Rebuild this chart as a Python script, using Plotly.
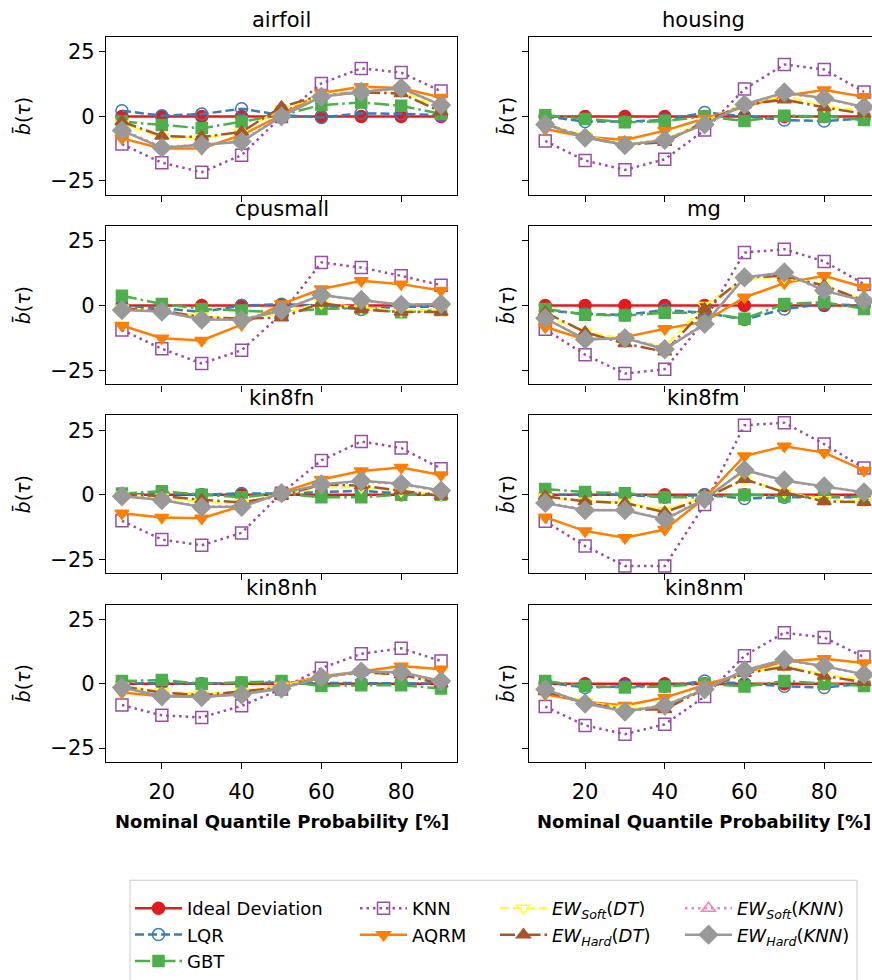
import plotly.graph_objects as go

datasets = ["airfoil", "housing", "cpusmall", "mg", "kin8fn", "kin8fm", "kin8nh", "kin8nm"]
quantiles = [10, 20, 30, 40, 50, 60, 70, 80, 90]

ideal = [
    [0, 0, 0, 0, 0, 0, 0, 0, 0],
    [0, 0, 0, 0, 0, 0, 0, 0, 0],
    [0, 0, 0, 0, 0, 0, 0, 0, 0],
    [0, 0, 0, 0, 0, 0, 0, 0, 0],
    [0, 0, 0, 0, 0, 0, 0, 0, 0],
    [0, 0, 0, 0, 0, 0, 0, 0, 0],
    [0, 0, 0, 0, 0, 0, 0, 0, 0],
    [0, 0, 0, 0, 0, 0, 0, 0, 0],
]
lqr = [
    [2.2, 0.3, 0.9, 3.0, 0.5, -0.4, 1.2, 1.0, 0.5],
    [0.0, -2.0, -2.0, -1.4, 1.5, 0.0, -1.4, -1.8, -0.8],
    [-0.5, -1.0, -2.5, 0.0, 0.5, 0.0, -1.5, -0.5, -0.5],
    [-1.9, -3.2, -3.6, -1.7, -2.8, -5.4, -1.3, 0.6, 0.0],
    [0.0, 0.5, 0.0, 0.5, 0.5, 1.0, 1.5, 0.5, 0.5],
    [0.0, 0.0, 0.0, -1.0, 0.0, -1.5, -1.0, -1.0, -1.0],
    [0.0, 0.2, 0.0, 0.3, 0.5, 0.3, 0.2, 0.2, 0.0],
    [0.5, -1.5, -1.0, -1.0, 1.0, 0.0, -1.0, -1.5, 0.0],
]
gbt = [
    [-2.0, -3.3, -4.6, -2.0, 0.5, 4.4, 5.4, 4.1, 1.0],
    [0.5, -1.0, -2.3, -1.8, 0.0, -1.8, 0.3, 0.0, -1.4],
    [3.8, 0.6, -1.3, -1.9, -2.6, -1.3, -1.0, -2.6, -1.7],
    [-1.3, -3.5, -3.8, -2.8, -2.8, -5.1, 0.6, 1.3, -1.3],
    [0.5, 1.3, 0.0, -1.0, 0.5, -1.0, -1.0, 0.0, 0.0],
    [2.2, 1.0, 0.6, -1.0, -1.0, 0.0, -0.6, -0.6, -0.9],
    [1.0, 1.4, 0.0, 0.4, 1.0, -0.9, -0.6, -0.6, -1.9],
    [1.0, -0.9, -1.5, -1.1, 0.0, -1.1, 1.0, 0.0, -0.9],
]
knn = [
    [-10.7, -17.9, -21.6, -15.0, 0.0, 12.8, 18.6, 17.0, 9.8],
    [-9.5, -17.1, -20.7, -16.6, -5.3, 10.6, 20.1, 18.2, 9.5],
    [-9.4, -16.7, -22.4, -17.3, -3.2, 16.7, 14.7, 11.5, 7.9],
    [-9.2, -19.0, -26.3, -24.6, -5.8, 20.5, 21.8, 17.1, 8.3],
    [-10.1, -17.4, -19.6, -14.8, 0.6, 13.3, 20.6, 18.1, 10.1],
    [-10.3, -19.9, -27.6, -27.6, -3.8, 26.9, 27.9, 19.6, 10.3],
    [-8.3, -12.3, -13.1, -8.6, -2.1, 6.0, 11.6, 13.7, 8.8],
    [-8.9, -16.2, -19.6, -15.8, -5.0, 10.8, 19.8, 17.9, 10.3],
]
aqrm = [
    [-8.5, -12.4, -12.4, -7.2, 0.5, 9.1, 11.5, 11.0, 7.3],
    [-4.9, -7.9, -9.1, -5.5, -0.8, 3.7, 8.0, 10.2, 7.6],
    [-7.7, -12.6, -13.5, -7.4, 0.6, 6.4, 9.6, 8.3, 5.8],
    [-8.3, -13.1, -12.2, -9.0, -6.2, 3.2, 8.7, 11.5, 7.1],
    [-7.2, -8.8, -9.1, -4.4, 0.9, 5.9, 9.2, 10.5, 7.6],
    [-8.7, -14.1, -16.7, -13.5, -1.3, 15.0, 18.8, 16.3, 9.4],
    [-3.4, -4.9, -4.6, -4.0, -0.6, 2.9, 4.7, 6.8, 5.6],
    [-4.1, -7.0, -8.5, -5.4, -0.5, 4.2, 8.7, 9.7, 8.0],
]
ew_soft_dt = [
    [-3.0, -8.0, -8.5, -6.0, 3.0, 8.0, 10.0, 10.0, 3.0],
    [-3.0, -7.5, -11.0, -9.0, -2.0, 5.0, 8.0, 4.0, 2.0],
    [-1.0, -2.0, -4.0, -5.0, -3.0, 1.0, -1.0, -2.0, -1.5],
    [-4.0, -10.0, -13.0, -16.0, 0.0, 10.0, 11.0, 8.0, 2.0],
    [0.0, -1.0, -3.0, -3.0, 0.0, 3.0, 3.0, 1.5, 0.0],
    [-1.0, -2.5, -3.0, -6.0, -1.0, 6.0, 1.0, -2.0, -2.5],
    [-1.0, -3.0, -4.0, -3.0, -1.0, 2.5, 4.5, 3.5, 1.0],
    [-3.0, -7.0, -9.5, -9.0, -2.0, 4.0, 7.0, 3.5, 1.5],
]
ew_hard_dt = [
    [-2.0, -7.6, -8.0, -6.0, 3.7, 8.2, 9.3, 8.9, 1.8],
    [-3.0, -8.0, -11.0, -10.0, -2.0, 4.5, 6.5, 3.5, 1.0],
    [-1.0, -2.0, -4.5, -5.0, -4.7, 1.0, -1.5, -2.5, -2.5],
    [-2.6, -10.3, -14.7, -17.9, -1.3, 10.9, 11.5, 7.7, 1.9],
    [0.0, -0.5, -2.0, -3.0, -0.5, 4.0, 3.5, 1.5, -0.5],
    [-0.6, -2.6, -3.2, -6.8, -1.3, 6.0, 0.9, -2.6, -2.9],
    [-1.0, -3.5, -4.5, -3.0, -1.5, 2.5, 4.5, 3.5, 0.0],
    [-3.0, -7.5, -10.0, -10.0, -2.0, 4.0, 6.5, 3.0, 0.5],
]
ew_soft_knn = [
    [-5.2, -11.8, -11.0, -9.6, 0.2, 7.8, 9.6, 10.8, 4.5],
    [-3.0, -8.0, -11.0, -9.0, -3.0, 4.8, 9.0, 7.0, 3.5],
    [-1.5, -2.2, -5.2, -5.3, -1.8, 4.0, 2.0, 0.3, 0.5],
    [-4.8, -13.0, -12.5, -16.5, -7.0, 10.8, 12.5, 5.8, 1.8],
    [-0.5, -2.0, -4.6, -4.5, 0.5, 3.9, 5.2, 4.0, 1.5],
    [-3.0, -5.8, -6.0, -9.4, -1.6, 9.4, 5.4, 3.1, 0.9],
    [-1.4, -4.8, -5.1, -4.1, -1.8, 2.5, 4.6, 4.3, 1.0],
    [-2.1, -7.6, -10.6, -8.4, -2.1, 5.1, 9.1, 6.7, 3.5],
]
ew_hard_knn = [
    [-5.5, -12.1, -11.0, -9.8, 0.0, 7.6, 9.5, 11.0, 4.4],
    [-3.1, -8.2, -11.1, -9.1, -3.1, 4.6, 9.3, 7.0, 3.7],
    [-1.7, -2.3, -5.4, -5.5, -1.9, 4.1, 2.2, 0.3, 0.6],
    [-4.9, -13.1, -12.6, -16.9, -7.1, 10.9, 12.8, 5.8, 1.9],
    [-0.6, -2.1, -4.8, -4.7, 0.6, 4.0, 5.4, 4.2, 1.6],
    [-3.2, -6.0, -6.0, -9.6, -1.7, 9.6, 5.5, 3.2, 0.9],
    [-1.5, -4.9, -5.2, -4.2, -1.9, 2.5, 4.7, 4.4, 1.0],
    [-2.2, -7.7, -10.8, -8.5, -2.2, 5.2, 9.3, 6.8, 3.6],
]

x_ticks = [20, 40, 60, 80]
y_ticks = [-25, 0, 25]

FONT = "DejaVu Sans"

series = [
    # name, data, color, dash, symbol, size, legend
    ("Ideal Deviation", ideal, "#e41a1c", "solid", "circle", 12, "legend"),
    ("LQR", lqr, "#377eb8", "9px,4px", "circle-open", 12, "legend"),
    ("GBT", gbt, "#4daf4a", "15px,4px,2.5px,4px", "square", 11, "legend"),
    ("KNN", knn, "#984ea3", "2.5px,4px", "square-open", 12, "legend2"),
    ("AQRM", aqrm, "#ff7f00", "solid", "triangle-down", 12, "legend2"),
    ("<i>EW</i><sub><i>Soft</i></sub>(<i>DT</i>)", ew_soft_dt, "#ffff33", "9px,4px", "triangle-down-open", 12, "legend3"),
    ("<i>EW</i><sub><i>Hard</i></sub>(<i>DT</i>)", ew_hard_dt, "#a65628", "15px,4px,2.5px,4px", "triangle-up", 12, "legend3"),
    ("<i>EW</i><sub><i>Soft</i></sub>(<i>KNN</i>)", ew_soft_knn, "#f781bf", "2.5px,4px", "triangle-up-open", 12, "legend4"),
    ("<i>EW</i><sub><i>Hard</i></sub>(<i>KNN</i>)", ew_hard_knn, "#999999", "solid", "diamond", 14, "legend4"),
]

W, H = 872, 980
col_px = [(106, 457), (529.3, 872)]
col_range = [[6, 94], [6, 92]]
row_px = [(37.7, 198), (229.5, 390), (421.5, 581.7), (613.3, 773.3)]
y_range = [-30.5, 30.7]

fig = go.Figure()
annotations = []
for i, name in enumerate(datasets):
    r, c = divmod(i, 2)
    ax = "" if i == 0 else str(i + 1)
    xd = [col_px[c][0] / W, col_px[c][1] / W]
    yd = [1 - row_px[r][1] / H, 1 - row_px[r][0] / H]
    fig.update_layout(**{
        "xaxis" + ax: dict(
            domain=xd, range=col_range[c], anchor="y" + ax,
            tickvals=x_ticks, showticklabels=(r == 3), ticks="outside", ticklen=6,
            tickwidth=1.2, tickcolor="black", showline=True, linecolor="black",
            linewidth=1.2, mirror=True, showgrid=False, zeroline=False,
            tickfont=dict(family=FONT, size=21, color="black"),
            ticklabelstandoff=4,
        ),
        "yaxis" + ax: dict(
            domain=yd, range=y_range, anchor="x" + ax,
            tickvals=y_ticks, showticklabels=(c == 0), ticks="outside", ticklen=6,
            tickwidth=1.2, tickcolor="black", showline=True, linecolor="black",
            linewidth=1.2, mirror=(c == 0), showgrid=False, zeroline=False,
            tickfont=dict(family=FONT, size=21, color="black"),
            tickformat="d",
        ),
    })
    full_w = 349 if c == 1 else (col_px[c][1] - col_px[c][0])
    cx = (col_px[c][0] + full_w / 2) / W
    annotations.append(dict(
        text=name, x=cx, y=yd[1], xref="paper", yref="paper",
        xanchor="center", yanchor="bottom", yshift=3, showarrow=False,
        font=dict(family=FONT, size=21, color="black"),
    ))
    lab_x = 22 if c == 0 else 506
    annotations.append(dict(
        text="<i>b̄</i>(<i>τ</i>)", x=lab_x / W, y=(yd[0] + yd[1]) / 2,
        xref="paper", yref="paper", xanchor="center", yanchor="middle",
        textangle=-90, showarrow=False,
        font=dict(family=FONT, size=19, color="black"),
    ))
    if r == 3:
        annotations.append(dict(
            text="<b>Nominal Quantile Probability [%]</b>", x=cx, y=1 - 822 / H,
            xref="paper", yref="paper", xanchor="center", yanchor="top",
            borderpad=0, showarrow=False,
            font=dict(family=FONT, size=18, color="black"),
        ))

    for (sname, data, color, dash, symbol, msize, leg) in series:
        fig.add_trace(go.Scatter(
            x=quantiles, y=data[i], mode="lines+markers", name=sname,
            xaxis="x" + ax, yaxis="y" + ax,
            line=dict(color=color, width=2.5, dash=dash),
            marker=dict(symbol=symbol, size=msize, color=color,
                        line=dict(color=color, width=1.5)),
            legend=leg, legendgroup=sname, showlegend=(i == 0),
        ))

leg_common = dict(
    font=dict(family=FONT, size=18, color="black"),
    bgcolor="rgba(0,0,0,0)", borderwidth=0, orientation="v",
    xanchor="left", yanchor="top", itemwidth=47, tracegroupgap=0,
)
leg_y = 1 - 903 / H
fig.update_layout(
    width=W, height=H, autosize=False,
    margin=dict(l=0, r=0, t=0, b=0),
    paper_bgcolor="white", plot_bgcolor="white",
    annotations=annotations,
    legend=dict(x=130 / W, y=leg_y, **leg_common),
    legend2=dict(x=355 / W, y=leg_y, **leg_common),
    legend3=dict(x=495 / W, y=leg_y, **leg_common),
    legend4=dict(x=680 / W, y=leg_y, **leg_common),
    shapes=[dict(type="rect", xref="paper", yref="paper",
                 x0=130 / W, x1=857 / W, y0=-0.05, y1=1 - 893 / H,
                 line=dict(color="#cccccc", width=1), fillcolor="rgba(255,255,255,0.8)",
                 layer="below")],
)

fig.write_html("out.html")
